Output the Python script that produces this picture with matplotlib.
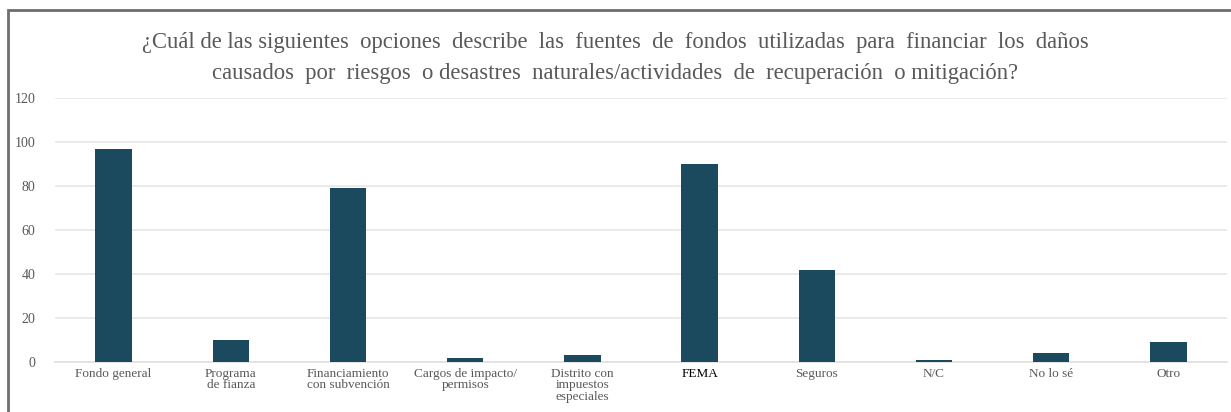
import matplotlib
matplotlib.use("Agg")
import matplotlib.pyplot as plt
from matplotlib.patches import Rectangle

# ---------------------------------------------------------
# Data
# ---------------------------------------------------------
categories = [
    "Fondo general",
    "Programa\nde fianza",
    "Financiamiento\ncon subvención",
    "Cargos de impacto/\npermisos",
    "Distrito con\nimpuestos\nespeciales",
    "FEMA",
    "Seguros",
    "N/C",
    "No lo sé",
    "Otro",
]
counts = [97, 10, 79, 2, 3, 90, 42, 1, 4, 9]
yticks = [0, 20, 40, 60, 80, 100, 120]

title = ("¿Cuál de las siguientes  opciones  describe  las  fuentes  de  fondos  utilizadas  para  financiar  los  daños\n"
         "causados  por  riesgos  o desastres  naturales/actividades  de  recuperación  o mitigación?")

plt.rcParams["font.family"] = ["Liberation Serif", "DejaVu Serif"]

bar_color = "#1b4a5e"
grey = "#595959"

fig = plt.figure(figsize=(12.31, 4.12), dpi=100)
ax = fig.add_axes([55 / 1231, 1 - 362 / 412, (1227 - 55) / 1231, (362 - 98) / 412])

x = list(range(len(categories)))
ax.bar(x, counts, width=0.31, color=bar_color, zorder=3)

ax.set_xlim(-0.5, len(categories) - 0.5)
ax.set_ylim(0, 120)
ax.set_yticks(yticks)
ax.set_yticklabels([str(t) for t in yticks], fontsize=10, color=grey)
ax.set_xticks(x)
ax.set_xticklabels(categories, fontsize=9.5, color=grey, linespacing=0.95)
for lbl in ax.get_xticklabels():
    if lbl.get_text() == "FEMA":
        lbl.set_color("black")
ax.tick_params(axis="both", length=0)
ax.tick_params(axis="y", pad=14)
ax.tick_params(axis="x", pad=4)

ax.grid(axis="y", color="#e6e6e6", linewidth=1.2, zorder=0)
for s in ["top", "right", "left"]:
    ax.spines[s].set_visible(False)
ax.spines["bottom"].set_color("#e0e0e0")
ax.spines["bottom"].set_linewidth(1.2)

fig.text(0.5, 1 - 58 / 412, title, ha="center", va="center", fontsize=16.3,
         color=grey, linespacing=1.6)

# frame around the chart (top and left edges visible)
fig.add_artist(Rectangle((8 / 1231, -0.05), 1.2, 1 - 10 / 412 + 0.05,
                         transform=fig.transFigure, fill=False,
                         edgecolor="#6e6e6e", linewidth=2))

fig.savefig("out.png", dpi=100)
